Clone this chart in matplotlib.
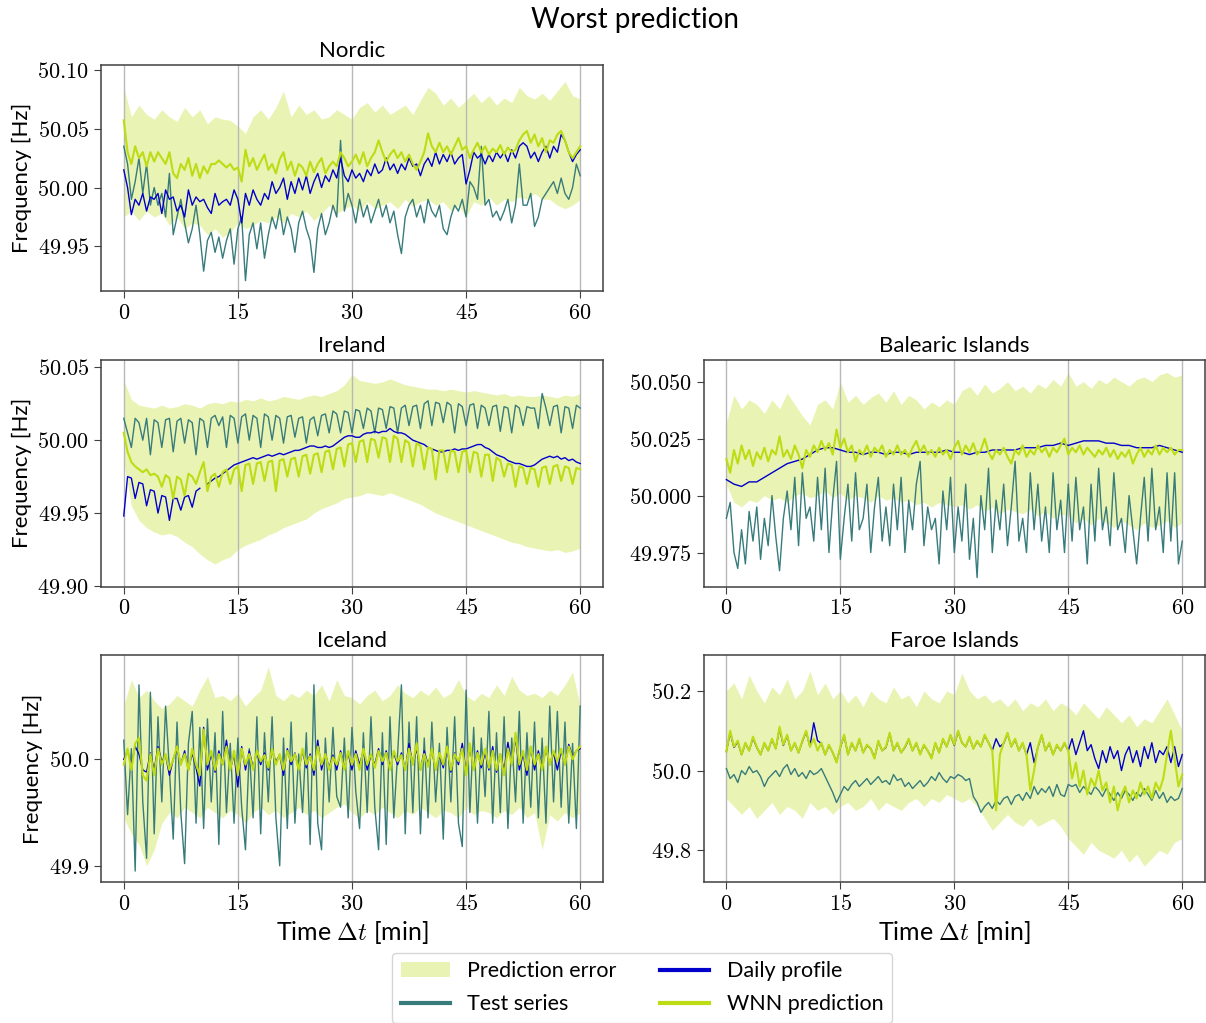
import numpy as np
import matplotlib
matplotlib.use("Agg")
import matplotlib.pyplot as plt
from matplotlib.lines import Line2D
from matplotlib.patches import Patch

plt.rcParams['font.family'] = ['Lato', 'DejaVu Sans']
plt.rcParams['mathtext.fontset'] = 'cm'

# Farben
c_test = "#377b7b"
c_profile = "#0000cd"
c_wnn = "#bddc14"

# ---------------------------------------------------------------
# Nordic
nordic_test = [
    50.035, 50.02, 49.99, 50.005, 50.025, 49.995, 50.02, 49.985, 50.0, 49.985,
    49.995, 49.975, 50.012, 49.96, 49.975, 49.99, 49.97, 49.953, 49.965, 49.985,
    49.96, 49.929, 49.955, 49.962, 49.945, 49.958, 49.94, 49.955, 49.965, 49.935,
    49.965, 49.975, 49.921, 49.96, 49.97, 49.948, 49.97, 49.94, 49.96, 49.975,
    49.965, 49.982, 49.96, 49.975, 49.965, 49.945, 49.97, 49.98, 49.965, 49.955,
    49.928, 49.965, 49.978, 49.96, 49.97, 49.985, 49.975, 50.04, 49.98, 49.995,
    49.985, 49.97, 49.99, 49.975, 49.985, 49.97, 49.98, 49.99, 49.975, 49.985,
    49.97, 49.98, 49.96, 49.944, 49.975, 49.985, 49.99, 49.975, 49.985, 49.97,
    49.99, 49.98, 49.975, 49.985, 49.965, 49.96, 49.975, 49.985, 49.98, 49.99,
    49.975, 50.005, 50.0, 49.99, 50.035, 49.985, 49.99, 49.975, 49.98, 49.972,
    49.98, 49.99, 49.97, 49.985, 50.02, 49.985, 49.985, 49.995, 49.967, 49.975,
    49.99, 49.995, 50.0, 50.005, 49.995, 50.008, 49.995, 49.99, 50.0, 50.02,
    50.01]
nordic_wnn = [
    50.057, 50.03, 50.02, 50.035, 50.025, 50.03, 50.018, 50.03, 50.022, 50.03,
    50.025, 50.02, 50.03, 50.012, 50.008, 50.02, 50.015, 50.025, 50.01, 50.02,
    50.008, 50.018, 50.012, 50.02, 50.02, 50.023, 50.02, 50.017, 50.02, 50.015,
    50.017, 50.005, 50.032, 50.018, 50.025, 50.015, 50.022, 50.028, 50.015, 50.02,
    50.012, 50.024, 50.03, 50.015, 50.022, 50.01, 50.02, 50.017, 50.01, 50.022,
    50.013, 50.02, 50.025, 50.012, 50.018, 50.022, 50.018, 50.03, 50.025, 50.018,
    50.022, 50.028, 50.02, 50.03, 50.018, 50.025, 50.03, 50.04, 50.03, 50.022,
    50.028, 50.032, 50.025, 50.03, 50.022, 50.028, 50.02, 50.015, 50.022, 50.03,
    50.046, 50.035, 50.03, 50.038, 50.03, 50.035, 50.028, 50.035, 50.042, 50.032,
    50.035, 50.025, 50.032, 50.038, 50.03, 50.035, 50.028, 50.033, 50.03, 50.036,
    50.028, 50.034, 50.03, 50.032, 50.04, 50.045, 50.048, 50.038, 50.045, 50.035,
    50.042, 50.03, 50.04, 50.038, 50.045, 50.048, 50.04, 50.03, 50.025, 50.03,
    50.035]
nordic_profile = [
    50.015, 50.0, 49.977, 49.99, 49.985, 49.995, 49.98, 49.992, 49.99, 49.995,
    49.978, 49.998, 49.99, 49.992, 49.98, 49.985, 49.975, 49.998, 49.985, 49.992,
    49.988, 49.99, 49.983, 49.978, 49.995, 49.985, 49.988, 49.99, 49.985, 49.998,
    49.99, 49.97, 49.995, 49.985, 49.998, 49.99, 49.985, 49.995, 49.99, 50.005,
    49.995, 50.0, 50.008, 49.99, 50.005, 49.995, 50.008, 49.998, 50.01, 49.995,
    50.005, 50.012, 50.0, 50.01, 50.005, 50.015, 50.008, 50.025, 50.01, 50.005,
    50.015, 50.008, 50.012, 50.005, 50.015, 50.01, 50.02, 50.012, 50.015, 50.025,
    50.015, 50.02, 50.012, 50.02, 50.015, 50.025, 50.018, 50.02, 50.01, 50.02,
    50.025, 50.018, 50.03, 50.02, 50.028, 50.022, 50.03, 50.02, 50.025, 50.028,
    50.003, 50.015, 50.03, 50.025, 50.028, 50.02, 50.028, 50.022, 50.03, 50.025,
    50.03, 50.022, 50.032, 50.025, 50.035, 50.038, 50.035, 50.025, 50.03, 50.022,
    50.03, 50.035, 50.025, 50.035, 50.03, 50.045, 50.04, 50.03, 50.022, 50.028,
    50.032]
nordic_hi = [
    50.085, 50.06, 50.07, 50.062, 50.058, 50.066, 50.06, 50.056, 50.068, 50.06,
    50.066, 50.054, 50.06, 50.058, 50.057, 50.052, 50.046, 50.06, 50.066, 50.058,
    50.068, 50.082, 50.06, 50.07, 50.062, 50.066, 50.058, 50.06, 50.066, 50.062,
    50.058, 50.068, 50.072, 50.064, 50.07, 50.062, 50.066, 50.07, 50.062, 50.074,
    50.085, 50.08, 50.07, 50.076, 50.068, 50.074, 50.08, 50.072, 50.078, 50.07,
    50.076, 50.072, 50.085, 50.078, 50.075, 50.08, 50.074, 50.082, 50.09, 50.078,
    50.075]
nordic_lo = [
    49.975, 49.98, 49.972, 49.98, 49.975, 49.978, 49.968, 49.975, 49.965, 49.97,
    49.968, 49.96, 49.965, 49.958, 49.962, 49.97, 49.965, 49.968, 49.972, 49.97,
    49.975, 49.97, 49.978, 49.975, 49.98, 49.972, 49.978, 49.985, 49.978, 49.982,
    49.985, 49.98, 49.988, 49.982, 49.985, 49.988, 49.982, 49.99, 49.984, 49.988,
    49.99, 49.985, 49.988, 49.98, 49.985, 49.975, 49.988, 49.985, 49.992, 49.985,
    49.99, 49.988, 49.992, 49.99, 49.995, 49.99, 49.99, 49.985, 49.982, 49.985,
    49.99]

# ---------------------------------------------------------------
# Ireland
ireland_test = [
    50.015, 50.005, 49.995, 50.015, 50.012, 50.0, 50.015, 49.99, 50.014, 50.012,
    49.995, 50.014, 50.015, 49.992, 50.013, 50.015, 49.998, 50.014, 50.012, 49.99,
    50.015, 50.013, 49.995, 50.015, 50.017, 50.01, 50.016, 49.995, 50.017, 50.015,
    49.998, 50.016, 50.018, 50.0, 50.017, 50.015, 49.995, 50.018, 50.016, 50.0,
    50.017, 50.015, 49.998, 50.016, 50.017, 50.002, 50.015, 50.016, 49.998, 50.014,
    50.016, 50.003, 50.017, 50.018, 50.005, 50.02, 50.018, 50.005, 50.02, 50.019,
    50.005, 50.021, 50.02, 50.008, 50.022, 50.02, 50.005, 50.022, 50.021, 50.008,
    50.023, 50.022, 50.005, 50.022, 50.024, 50.01, 50.023, 50.024, 50.008, 50.025,
    50.027, 50.01, 50.026, 50.025, 50.012, 50.026, 50.024, 50.005, 50.025, 50.023,
    50.01, 50.024, 50.025, 50.008, 50.024, 50.022, 50.01, 50.023, 50.024, 50.006,
    50.023, 50.022, 50.005, 50.024, 50.022, 50.01, 50.023, 50.022, 50.022, 50.008,
    50.032, 50.022, 50.01, 50.023, 50.024, 50.005, 50.023, 50.022, 50.008, 50.024,
    50.022]
ireland_wnn = [
    50.005, 49.992, 49.985, 49.982, 49.98, 49.978, 49.98, 49.976, 49.977, 49.975,
    49.968, 49.976, 49.974, 49.96, 49.975, 49.973, 49.962, 49.977, 49.975, 49.97,
    49.978, 49.985, 49.965, 49.975, 49.977, 49.968, 49.978, 49.98, 49.97, 49.98,
    49.982, 49.965, 49.983, 49.984, 49.97, 49.984, 49.985, 49.972, 49.985, 49.986,
    49.965, 49.986, 49.987, 49.975, 49.987, 49.988, 49.975, 49.989, 49.99, 49.977,
    49.99, 49.991, 49.978, 49.992, 49.993, 49.98, 49.994, 49.995, 49.982, 49.997,
    49.998, 49.985, 49.999, 50.0, 49.985, 50.001, 50.0, 49.988, 50.002, 50.001,
    49.985, 50.003, 50.001, 49.985, 50.0, 49.998, 49.982, 49.998, 49.996, 49.98,
    49.995, 49.994, 49.973, 49.993, 49.993, 49.978, 49.993, 49.992, 49.978, 49.992,
    49.993, 49.978, 49.992, 49.991, 49.975, 49.99, 49.99, 49.972, 49.988, 49.986,
    49.975, 49.984, 49.983, 49.968, 49.982, 49.981, 49.97, 49.981, 49.98, 49.968,
    49.981, 49.982, 49.97, 49.982, 49.983, 49.972, 49.982, 49.981, 49.97, 49.981,
    49.98]
ireland_profile = [
    49.948, 49.975, 49.974, 49.96, 49.971, 49.97, 49.955, 49.966, 49.965, 49.95,
    49.962, 49.961, 49.945, 49.96, 49.96, 49.952, 49.961, 49.962, 49.954, 49.965,
    49.967, np.nan, 49.97, 49.972, 49.974, 49.975, 49.977, 49.979, 49.981, 49.983,
    49.984, 49.985, 49.986, 49.987, 49.988, 49.987, 49.988, 49.989, 49.99, 49.989,
    49.99, 49.991, 49.99, 49.991, 49.992, 49.993, 49.993, 49.994, 49.995, 49.996,
    49.996, 49.995, 49.995, 49.996, 49.995, 49.996, 49.998, 50.0, 50.002, 50.003,
    50.003, 50.002, 50.002, 50.004, 50.005, 50.005, 50.006, 50.005, 50.006, 50.006,
    50.008, 50.006, 50.005, 50.005, 50.004, 50.002, 50.0, 49.999, 49.998, 49.997,
    49.995, 49.994, 49.993, 49.992, 49.992, 49.993, 49.993, 49.994, 49.993, 49.994,
    49.994, 49.995, 49.996, 49.997, 49.997, 49.995, 49.994, 49.992, 49.99, 49.989,
    49.988, 49.986, 49.985, 49.984, 49.984, 49.983, 49.982, 49.982, 49.983, 49.985,
    49.987, 49.988, 49.989, 49.988, 49.989, 49.987, 49.988, 49.986, 49.987, 49.985,
    49.984]
ireland_hi = [
    50.041, 50.028, 50.024, 50.023, 50.022, 50.024, 50.022, 50.023, 50.025, 50.024,
    50.022, 50.025, 50.026, 50.025, 50.027, 50.026, 50.028, 50.027, 50.029, 50.027,
    50.028, 50.03, 50.029, 50.028, 50.03, 50.031, 50.03, 50.032, 50.034, 50.038,
    50.045, 50.041, 50.04, 50.039, 50.04, 50.042, 50.04, 50.038, 50.037, 50.036,
    50.035, 50.035, 50.034, 50.035, 50.034, 50.033, 50.034, 50.033, 50.032, 50.031,
    50.032, 50.03, 50.031, 50.03, 50.03, 50.031, 50.03, 50.029, 50.031, 50.03,
    50.032]
ireland_lo = [
    49.985, 49.955, 49.945, 49.94, 49.937, 49.935, 49.936, 49.934, 49.93, 49.927,
    49.922, 49.918, 49.915, 49.918, 49.92, 49.925, 49.928, 49.93, 49.932, 49.935,
    49.937, 49.94, 49.942, 49.944, 49.946, 49.95, 49.953, 49.955, 49.957, 49.96,
    49.961, 49.962, 49.964, 49.963, 49.962, 49.964, 49.962, 49.96, 49.958, 49.956,
    49.953, 49.95, 49.948, 49.946, 49.944, 49.942, 49.94, 49.938, 49.936, 49.934,
    49.932, 49.93, 49.929, 49.927, 49.926, 49.925, 49.924, 49.925, 49.923, 49.924,
    49.926]

# ---------------------------------------------------------------
# Balearic Islands
balearic_test = [
    49.99, 49.997, 49.975, 49.968, 49.985, 49.97, 49.993, 49.98, 49.995, 49.972,
    49.99, 49.978, 50.0, 49.982, 49.967, 49.99, 50.002, 49.985, 50.008, 49.978,
    50.01, 49.99, 49.995, 49.98, 50.008, 49.985, 50.012, 49.975, 49.998, 50.015,
    49.972, 49.99, 50.005, 49.98, 50.01, 49.985, 49.99, 50.005, 49.975, 49.995,
    50.008, 49.98, 49.995, 49.978, 50.005, 49.985, 50.008, 49.975, 49.998, 49.985,
    50.005, 50.015, 49.978, 49.995, 49.985, 49.99, 49.97, 50.002, 49.985, 50.008,
    49.975, 49.995, 49.98, 50.005, 49.972, 49.99, 49.964, 50.0, 49.985, 50.012,
    49.975, 49.998, 49.985, 50.005, 49.978, 49.995, 50.015, 49.98, 49.99, 49.975,
    50.01, 49.985, 50.005, 49.98, 49.995, 49.975, 50.01, 49.985, 49.998, 49.975,
    50.005, 49.98, 50.008, 49.985, 49.995, 49.97, 50.005, 49.98, 50.012, 49.985,
    49.995, 49.978, 50.01, 49.985, 49.99, 49.975, 50.0, 49.985, 49.97, 49.99,
    50.008, 49.98, 50.012, 49.985, 49.995, 49.975, 50.01, 49.98, 50.01, 49.97,
    49.98]
balearic_wnn = [
    50.016, 50.01, 50.02, 50.014, 50.022, 50.016, 50.02, 50.013, 50.019, 50.016,
    50.021, 50.015, 50.02, 50.018, 50.026, 50.017, 50.02, 50.016, 50.022, 50.018,
    50.012, 50.02, 50.017, 50.022, 50.019, 50.024, 50.02, 50.023, 50.018, 50.029,
    50.021, 50.025, 50.019, 50.022, 50.015, 50.02, 50.018, 50.022, 50.017, 50.021,
    50.019, 50.022, 50.017, 50.02, 50.018, 50.022, 50.018, 50.02, 50.017, 50.021,
    50.024, 50.019, 50.022, 50.018, 50.02, 50.017, 50.021, 50.018, 50.02, 50.016,
    50.021, 50.024, 50.018, 50.022, 50.019, 50.023, 50.018, 50.02, 50.025, 50.019,
    50.016, 50.02, 50.018, 50.021, 50.017, 50.014, 50.02, 50.018, 50.022, 50.017,
    50.02, 50.018, 50.022, 50.019, 50.021, 50.017, 50.021, 50.019, 50.022, 50.025,
    50.018, 50.021, 50.019, 50.022, 50.018, 50.021, 50.019, 50.017, 50.02, 50.018,
    50.021, 50.017, 50.02, 50.016, 50.019, 50.017, 50.02, 50.014, 50.018, 50.021,
    50.017, 50.02, 50.018, 50.022, 50.018, 50.021, 50.019, 50.021, 50.018, 50.02,
    50.02]
balearic_profile = [
    50.007, 50.005, 50.004, 50.006, 50.006, 50.008, 50.01, 50.012, 50.014, 50.015,
    50.016, 50.018, 50.02, 50.021, 50.021, 50.02, 50.019, 50.019, 50.018, 50.019,
    50.019, 50.018, 50.019, 50.019, 50.018, 50.019, 50.019, 50.019, 50.019, 50.02,
    50.019, 50.019, 50.018, 50.019, 50.019, 50.02, 50.02, 50.02, 50.02, 50.021,
    50.021, 50.021, 50.022, 50.022, 50.023, 50.022, 50.023, 50.024, 50.024, 50.024,
    50.023, 50.023, 50.022, 50.022, 50.021, 50.021, 50.021, 50.022, 50.021, 50.02,
    50.019]
balearic_hi = [
    50.032, 50.044, 50.038, 50.042, 50.04, 50.036, 50.042, 50.038, 50.045, 50.04,
    50.035, 50.031, 50.04, 50.042, 50.038, 50.05, 50.041, 50.044, 50.04, 50.043,
    50.045, 50.041, 50.046, 50.04, 50.044, 50.042, 50.038, 50.041, 50.039, 50.042,
    50.04, 50.046, 50.048, 50.044, 50.049, 50.045, 50.047, 50.05, 50.046, 50.048,
    50.045, 50.049, 50.047, 50.051, 50.048, 50.054, 50.048, 50.05, 50.047, 50.051,
    50.049, 50.052, 50.05, 50.048, 50.051, 50.052, 50.05, 50.053, 50.054, 50.052,
    50.053]
balearic_lo = [
    50.005, 49.997, 49.995, 49.998, 49.997, 50.0, 49.998, 49.999, 49.997, 50.0,
    50.001, 49.999, 50.0, 50.002, 49.999, 50.001, 49.998, 50.0, 49.999, 49.997,
    50.0, 49.998, 49.999, 49.997, 49.998, 49.996, 49.997, 49.995, 49.997, 49.996,
    49.995, 49.996, 49.994, 49.996, 49.993, 49.995, 49.992, 49.994, 49.993, 49.992,
    49.994, 49.991, 49.993, 49.99, 49.992, 49.991, 49.988, 49.99, 49.987, 49.99,
    49.988, 49.986, 49.989, 49.987, 49.985, 49.988, 49.986, 49.987, 49.989, 49.986,
    49.988]

# ---------------------------------------------------------------
# Iceland
iceland_test = [
    50.018, 49.948, 50.01, 49.895, 50.07, 49.96, 49.907, 50.063, 49.93, 50.04,
    49.96, 50.05, 49.99, 49.925, 50.035, 49.95, 49.902, 50.015, 50.045, 49.94,
    50.03, 49.935, 50.038, 49.96, 50.025, 49.92, 50.045, 49.95, 50.015, 49.94,
    50.02, 49.955, 49.915, 50.01, 49.945, 50.04, 49.93, 50.025, 49.96, 50.04,
    49.945, 49.9, 50.02, 49.935, 50.035, 49.94, 50.005, 49.95, 50.025, 49.92,
    50.07, 49.94, 49.915, 50.02, 49.96, 50.03, 49.965, 49.955, 50.02, 49.945,
    50.03, 49.97, 49.935, 50.025, 49.95, 50.04, 49.955, 49.915, 50.025, 49.92,
    50.04, 49.945, 50.005, 50.07, 49.93, 50.035, 49.95, 50.04, 49.93, 50.02,
    49.945, 50.035, 49.96, 50.015, 49.925, 50.03, 49.96, 50.04, 49.94, 49.918,
    50.065, 49.95, 50.03, 49.94, 50.02, 49.965, 50.045, 49.94, 50.025, 49.95,
    50.04, 49.935, 50.02, 49.96, 50.045, 49.94, 50.025, 49.955, 50.035, 49.945,
    50.02, 49.94, 50.05, 49.96, 50.045, 49.955, 50.035, 49.94, 50.015, 49.935,
    50.05]
iceland_wnn = [
    49.995, 50.01, 49.99, 50.015, 50.02, 49.985, 49.98, 50.005, 49.985, 50.01,
    49.995, 50.005, 49.99, 50.0, 50.012, 49.995, 50.005, 49.99, 50.01, 49.995,
    49.985, 50.028, 49.995, 50.008, 49.99, 50.005, 49.995, 50.012, 49.99, 50.008,
    49.985, 50.01, 49.995, 50.005, 49.99, 50.008, 49.998, 50.004, 49.992, 50.01,
    49.995, 50.005, 49.99, 50.008, 49.998, 50.005, 49.99, 50.01, 49.995, 50.003,
    49.99, 50.012, 49.995, 50.005, 49.99, 50.002, 49.995, 50.006, 49.99, 50.008,
    49.995, 50.005, 49.99, 50.01, 49.995, 50.005, 49.992, 50.008, 49.998, 50.006,
    49.99, 50.008, 49.998, 50.004, 49.99, 50.01, 49.995, 50.015, 49.99, 50.005,
    49.993, 50.01, 49.99, 50.006, 49.995, 50.012, 49.99, 50.005, 49.998, 50.01,
    49.985, 50.015, 49.99, 50.006, 49.995, 50.01, 49.992, 50.008, 49.99, 50.005,
    49.985, 50.01, 49.995, 50.025, 49.995, 50.008, 49.99, 50.012, 49.995, 50.005,
    49.99, 50.012, 49.995, 50.008, 49.998, 50.01, 49.995, 50.012, 50.0, 50.008,
    50.012]
iceland_profile = [
    50.0, 50.008, 49.995, 50.012, 50.005, 49.99, 49.988, 50.006, 49.99, 50.012,
    49.998, 50.004, 49.985, 50.0, 50.01, 49.995, 50.008, 49.99, 50.006, 49.992,
    49.975, 50.03, 49.99, 50.005, 49.988, 50.008, 49.995, 50.018, 49.99, 50.005,
    49.974, 50.012, 49.99, 50.008, 49.992, 50.006, 49.995, 50.006, 49.99, 50.008,
    49.998, 50.004, 49.985, 50.01, 49.995, 50.006, 49.99, 50.008, 49.992, 50.005,
    49.985, 50.018, 49.99, 50.005, 49.992, 50.004, 49.99, 50.008, 49.992, 50.006,
    49.99, 50.008, 49.995, 50.008, 49.99, 50.004, 49.995, 50.01, 49.995, 50.008,
    49.992, 50.006, 49.995, 50.006, 49.99, 50.015, 49.995, 50.01, 49.99, 50.008,
    49.995, 50.008, 49.99, 50.004, 49.992, 50.01, 49.988, 50.006, 49.995, 50.015,
    49.988, 50.012, 49.99, 50.008, 49.992, 50.006, 49.99, 50.012, 49.988, 50.005,
    49.99, 50.016, 49.995, 50.02, 49.99, 50.005, 49.985, 50.012, 49.99, 50.008,
    49.992, 50.01, 49.995, 50.006, 49.99, 50.008, 49.995, 50.014, 50.002, 50.008,
    50.01]
iceland_hi = [
    50.05, 50.075, 50.058, 50.065, 50.055, 50.048, 50.052, 50.06, 50.055, 50.05,
    50.065, 50.078, 50.058, 50.06, 50.055, 50.062, 50.05, 50.058, 50.065, 50.087,
    50.06, 50.055, 50.062, 50.058, 50.065, 50.06, 50.07, 50.055, 50.075, 50.06,
    50.058, 50.052, 50.06, 50.065, 50.055, 50.06, 50.07, 50.062, 50.058, 50.065,
    50.06, 50.068, 50.058, 50.062, 50.075, 50.06, 50.055, 50.062, 50.058, 50.07,
    50.06, 50.078, 50.065, 50.06, 50.062, 50.058, 50.065, 50.06, 50.07, 50.082,
    50.05]
iceland_lo = [
    49.945, 49.93, 49.92, 49.9, 49.915, 49.94, 49.95, 49.945, 49.955, 49.95,
    49.945, 49.955, 49.95, 49.945, 49.952, 49.948, 49.94, 49.95, 49.955, 49.948,
    49.952, 49.945, 49.95, 49.955, 49.948, 49.952, 49.945, 49.95, 49.955, 49.958,
    49.95, 49.945, 49.952, 49.948, 49.955, 49.95, 49.945, 49.952, 49.948, 49.955,
    49.95, 49.945, 49.952, 49.95, 49.945, 49.955, 49.948, 49.952, 49.95, 49.945,
    49.952, 49.948, 49.955, 49.945, 49.95, 49.915, 49.948, 49.942, 49.95, 49.945,
    49.95]

# ---------------------------------------------------------------
# Faroe Islands
faroe_test = [
    50.005, 49.98, 49.99, 49.97, 50.0, 49.99, 50.01, 49.995, 50.0, 49.985,
    49.96, 49.98, 49.99, 50.0, 49.985, 50.005, 50.015, 49.99, 50.005, 49.985,
    49.995, 49.98, 50.0, 49.99, 49.995, 50.005, 49.985, 49.965, 49.945, 49.92,
    49.94, 49.96, 49.95, 49.965, 49.975, 49.96, 49.97, 49.98, 49.965, 49.975,
    49.985, 49.97, 49.975, 49.965, 49.99, 49.975, 49.98, 49.96, 49.97, 49.955,
    49.965, 49.975, 49.96, 49.97, 49.985, 49.975, 49.995, 49.98, 49.97, 49.985,
    49.98, 49.99, 49.985, 49.975, 49.98, 49.935, 49.92, 49.895, 49.91, 49.92,
    49.905, 49.925, 49.915, 49.93, 49.935, 49.915, 49.935, 49.94, 49.925, 49.945,
    49.93, 49.96, 49.94, 49.955, 49.945, 49.96, 49.935, 49.965, 49.94, 49.935,
    49.965, 49.96, 49.965, 49.945, 49.96, 49.95, 49.94, 49.96, 49.95, 49.935,
    49.955, 49.94, 49.925, 49.945, 49.93, 49.95, 49.94, 49.925, 49.945, 49.935,
    49.955, 49.94, 49.925, 49.95, 49.93, 49.945, 49.92, 49.935, 49.925, 49.93,
    49.955]
faroe_wnn = [
    50.048, 50.1, 50.06, 50.075, 50.04, 50.07, 50.05, 50.085, 50.06, 50.04,
    50.07, 50.05, 50.08, 50.055, 50.11, 50.065, 50.09, 50.05, 50.07, 50.045,
    50.075, 50.1, 50.06, 50.08, 50.05, 50.07, 50.04, 50.065, 50.045, 50.02,
    50.06, 50.09, 50.04, 50.07, 50.05, 50.08, 50.045, 50.065, 50.055, 50.03,
    50.075, 50.05, 50.06, 50.095, 50.05, 50.07, 50.045, 50.06, 50.08, 50.05,
    50.07, 50.04, 50.065, 50.05, 50.03, 50.07, 50.045, 50.08, 50.06, 50.09,
    50.065, 50.1, 50.07, 50.06, 50.085, 50.055, 50.075, 50.06, 50.09, 50.07,
    50.05, 49.9, 50.04, 50.07, 50.095, 50.06, 50.08, 50.05, 50.07, 50.04,
    49.95, 50.0, 50.06, 50.09, 50.05, 50.07, 50.04, 50.065, 50.05, 50.07,
    50.05, 49.98, 50.02, 49.96, 50.0, 49.94, 49.98, 49.96, 50.0, 49.95,
    49.97, 49.92, 49.96, 49.9, 49.94, 49.96, 49.92, 49.95, 49.93, 49.97,
    49.94, 49.96, 49.93, 49.97, 49.95, 49.98, 50.04, 50.1, 50.03, 49.96,
    49.99]
faroe_profile = [
    50.048, 50.095, 50.058, 50.072, 50.04, 50.068, 50.05, 50.082, 50.058, 50.04,
    50.068, 50.05, 50.078, 50.055, 50.105, 50.063, 50.088, 50.05, 50.068, 50.045,
    50.073, 50.098, 50.06, 50.12, 50.075, 50.068, 50.04, 50.063, 50.045, 50.022,
    50.058, 50.088, 50.04, 50.068, 50.05, 50.078, 50.045, 50.063, 50.055, 50.032,
    50.073, 50.05, 50.058, 50.093, 50.05, 50.068, 50.045, 50.058, 50.078, 50.05,
    50.068, 50.042, 50.063, 50.05, 50.032, 50.068, 50.045, 50.078, 50.06, 50.088,
    50.063, 50.098, 50.07, 50.06, 50.083, 50.055, 50.073, 50.06, 50.088, 50.07,
    50.05, 50.08, 50.06, 50.068, 50.093, 50.06, 50.078, 50.05, 50.068, 50.04,
    50.07, 50.02, 50.058, 50.088, 50.05, 50.068, 50.04, 50.063, 50.05, 50.068,
    50.05, 50.08, 50.04, 50.07, 50.1, 50.05, 50.065, 50.03, 50.005, 50.05,
    50.02, 50.06, 50.03, 50.05, 50.0, 50.04, 50.06, 50.02, 50.05, 50.01,
    50.06, 50.03, 50.07, 50.02, 50.05, 50.04, 50.06, 50.02, 50.06, 50.01,
    50.04]
faroe_hi = [
    50.2, 50.22, 50.18, 50.24, 50.2, 50.17, 50.21, 50.19, 50.23, 50.18,
    50.2, 50.25, 50.19, 50.22, 50.18, 50.2, 50.17, 50.19, 50.16, 50.2,
    50.18, 50.17, 50.21, 50.18, 50.19, 50.16, 50.2, 50.18, 50.17, 50.2,
    50.19, 50.245, 50.2, 50.18, 50.19, 50.17, 50.18, 50.16, 50.18, 50.15,
    50.17, 50.16, 50.18, 50.15, 50.17, 50.16, 50.14, 50.17, 50.15, 50.13,
    50.16, 50.14, 50.12, 50.14, 50.11, 50.13, 50.12, 50.15, 50.18, 50.14,
    50.1]
faroe_lo = [
    49.93, 49.91, 49.89, 49.91, 49.88, 49.9, 49.92, 49.89, 49.91, 49.9,
    49.88, 49.92, 49.9, 49.91, 49.89, 49.91, 49.92, 49.9, 49.91, 49.93,
    49.9, 49.92, 49.91, 49.9, 49.92, 49.93, 49.91, 49.93, 49.92, 49.94,
    49.93, 49.92, 49.93, 49.91, 49.88, 49.85, 49.87, 49.89, 49.87, 49.86,
    49.88, 49.86, 49.87, 49.88, 49.86, 49.83, 49.81, 49.79, 49.82, 49.8,
    49.79, 49.78, 49.8, 49.77, 49.79, 49.76, 49.78, 49.8, 49.79, 49.82,
    49.83]

# Achsen: Titel, Position, y-Bereich, y-Ticks
panels = [
    ("Nordic", [0.0837, 0.7153, 0.4163, 0.2212], (49.912, 50.104),
     [49.95, 50.00, 50.05, 50.10], ["49.95", "50.00", "50.05", "50.10"],
     nordic_lo, nordic_hi, nordic_test, nordic_profile, nordic_wnn, True, False),
    ("Ireland", [0.0837, 0.4265, 0.4163, 0.2216], (49.8995, 50.055),
     [49.90, 49.95, 50.00, 50.05], ["49.90", "49.95", "50.00", "50.05"],
     ireland_lo, ireland_hi, ireland_test, ireland_profile, ireland_wnn, True, False),
    ("Balearic Islands", [0.5834, 0.4265, 0.4158, 0.2216], (49.960, 50.0595),
     [49.975, 50.000, 50.025, 50.050], ["49.975", "50.000", "50.025", "50.050"],
     balearic_lo, balearic_hi, balearic_test, balearic_profile, balearic_wnn, False, False),
    ("Iceland", [0.0837, 0.1381, 0.4163, 0.2216], (49.885, 50.098),
     [49.9, 50.0], ["49.9", "50.0"],
     iceland_lo, iceland_hi, iceland_test, iceland_profile, iceland_wnn, True, True),
    ("Faroe Islands", [0.5834, 0.1381, 0.4158, 0.2216], (49.721, 50.290),
     [49.8, 50.0, 50.2], ["49.8", "50.0", "50.2"],
     faroe_lo, faroe_hi, faroe_test, faroe_profile, faroe_wnn, False, True),
]

xticks = [0, 15, 30, 45, 60]

fig = plt.figure(figsize=(12.06, 10.23), dpi=100)

for (title, rect, ylim, yt, ylab, lo, hi, test, prof, wnn, show_ylabel, show_xlabel) in panels:
    ax = fig.add_axes(rect)
    t_band = np.linspace(0, 60, len(lo))
    ax.fill_between(t_band, lo, hi, color=c_wnn, alpha=0.32, linewidth=0)
    ax.plot(np.linspace(0, 60, len(test)), test, color=c_test, lw=1.0)
    ax.plot(np.linspace(0, 60, len(prof)), prof, color=c_profile, lw=1.0)
    ax.plot(np.linspace(0, 60, len(wnn)), wnn, color=c_wnn, lw=1.5)

    ax.set_title(title, fontsize=16, pad=6)
    ax.set_xlim(-3, 63)
    ax.set_ylim(*ylim)
    ax.set_xticks(xticks, labels=[f"${x}$" for x in xticks])
    ax.set_yticks(yt, labels=[f"${s}$" for s in ylab])
    ax.tick_params(labelsize=16, color="#404040", length=5)
    ax.grid(axis="x", color="#b8b8b8", lw=1.0)
    for sp in ax.spines.values():
        sp.set_color("#404040")
        sp.set_linewidth(1.1)
    if show_ylabel:
        ax.set_ylabel("Frequency [Hz]", fontsize=16)
    if show_xlabel:
        ax.set_xlabel(r"Time $\Delta t$ [min]", fontsize=18, labelpad=4)

fig.text(635 / 1206, 1 - 20 / 1023, "Worst prediction", ha="center", va="center", fontsize=20)

handles = [
    Patch(facecolor=c_wnn, alpha=0.32, edgecolor="none"),
    Line2D([], [], color=c_test, lw=3),
    Line2D([], [], color=c_profile, lw=3),
    Line2D([], [], color=c_wnn, lw=3),
]
labels = ["Prediction error", "Test series", "Daily profile", "WNN prediction"]
fig.legend(handles, labels, ncol=2, loc="upper center",
           bbox_to_anchor=(642 / 1206, 1 - 942 / 1023), fontsize=15.5,
           handlelength=2.3, columnspacing=2.0, labelspacing=0.6, frameon=True)

fig.savefig("out.png", dpi=100)
